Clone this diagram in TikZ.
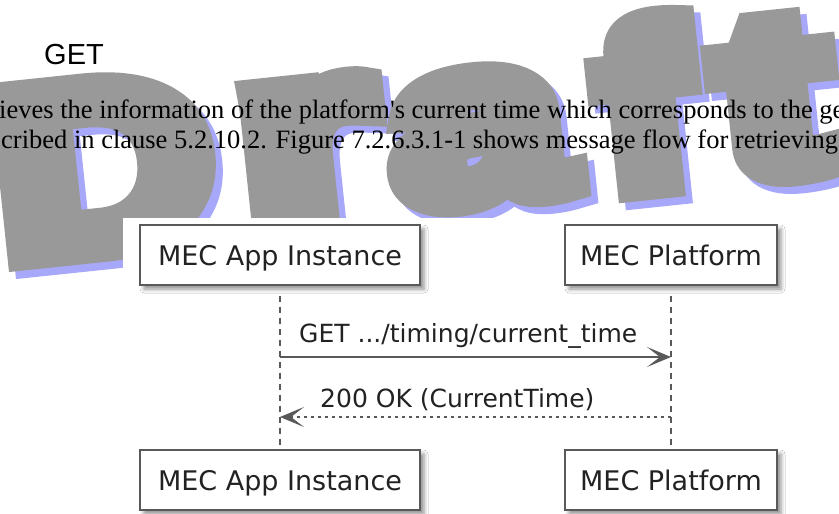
\documentclass[tikz,border=0pt]{standalone}
\usepackage{fontspec}
\usepackage{tikz}
\usetikzlibrary{arrows.meta,shadows.blur}
\newfontfamily\headfont{Liberation Sans}
\newfontfamily\bodyfont{Liberation Serif}
\newfontfamily\diagfont{DejaVu Sans}
\newfontfamily\draftfont[FakeBold=12]{Liberation Sans Bold}
\definecolor{draftgrey}{HTML}{999999}
\definecolor{draftblue}{HTML}{A8A8FA}
\definecolor{umlline}{HTML}{595959}
\definecolor{umltext}{HTML}{222222}
\tikzset{
  participant/.style={draw=umlline, line width=1.4pt, fill=white, text=umltext,
    minimum height=60pt, text height=20pt, text depth=0pt, font=\diagfont\fontsize{27}{32}\selectfont,
    blur shadow={shadow xshift=4pt, shadow yshift=-4pt, shadow blur radius=4pt, shadow opacity=45}},
  lifeline/.style={umlline, line width=1.2pt, dash pattern=on 6pt off 5pt},
  msglabel/.style={anchor=base west, inner sep=0pt, text=umltext, font=\diagfont\fontsize{25}{30}\selectfont},
  call/.style={umlline, line width=1.3pt, -{Stealth[length=24pt, width=20pt, inset=13pt]}},
  reply/.style={umlline, line width=1.3pt, dash pattern=on 3pt off 4pt, -{Stealth[length=24pt, width=20pt, inset=13pt]}},
  letter/.style={anchor=base, inner sep=0pt, rotate=6, font=\draftfont\fontsize{228}{228}\selectfont},
  bodyline/.style={anchor=base west, inner sep=0pt, font=\bodyfont\fontsize{26.5}{31}\selectfont}
}
\begin{document}
\begin{tikzpicture}[x=1pt, y=-1pt]
\useasboundingbox (0,0) rectangle (839,514);
\fill[white] (0,0) rectangle (839,514);

\foreach \ch/\px/\py/\sx/\sy in {D/112/247/1.3/1.03, r/315/221/1.5/1.1, a/485/198/1.35/1.0, f/652/186/1.15/1, t/782/172/1.4/1}
  \node[letter, text=draftblue] (shadow-\ch) at (\px+7,\py+7) {\scalebox{\sx}[\sy]{\ch}};
\foreach \ch/\px/\py/\sx/\sy in {D/112/247/1.3/1.03, r/315/221/1.5/1.1, a/485/198/1.35/1.0, f/652/186/1.15/1, t/782/172/1.4/1}
  \node[letter, text=draftgrey] (letter-\ch) at (\px,\py) {\scalebox{\sx}[\sy]{\ch}};
\fill[white] (123,218) rectangle (839,514);

\node[anchor=base west, inner sep=0pt, font=\headfont\fontsize{29}{34}\selectfont] (title) at (44,64) {GET};
\node[bodyline] (lineA) at (-1,118)
  {ieves the information of the platform\textquotesingle s current time which corresponds to the ge};
\node[bodyline] (lineB) at (1,148)
  {cribed in clause 5.2.10.2. Figure 7.2.6.3.1-1 shows message flow for retrieving};

\node[participant, minimum width=280pt] (appTop) at (280,255) {MEC App Instance};
\node[participant, minimum width=212pt] (mepTop) at (671,255) {MEC Platform};
\node[participant, minimum width=280pt] (appBot) at (280,480) {MEC App Instance};
\node[participant, minimum width=212pt] (mepBot) at (671,480) {MEC Platform};
\draw[lifeline, shorten <=10pt, shorten >=3pt] (appTop) -- (appBot);
\draw[lifeline, shorten <=10pt, shorten >=3pt] (mepTop) -- (mepBot);

\coordinate (reqY) at (0,357);
\coordinate (respY) at (0,417);
\draw[call] (appTop.south |- reqY) -- (mepTop.south |- reqY);
\draw[reply] (mepTop.south |- respY) -- (appTop.south |- respY);
\node[msglabel] (reqText) at (299,342) {GET .../timing/current\_time};
\node[msglabel] (respText) at (320,407) {200 OK (CurrentTime)};
\end{tikzpicture}
\end{document}
